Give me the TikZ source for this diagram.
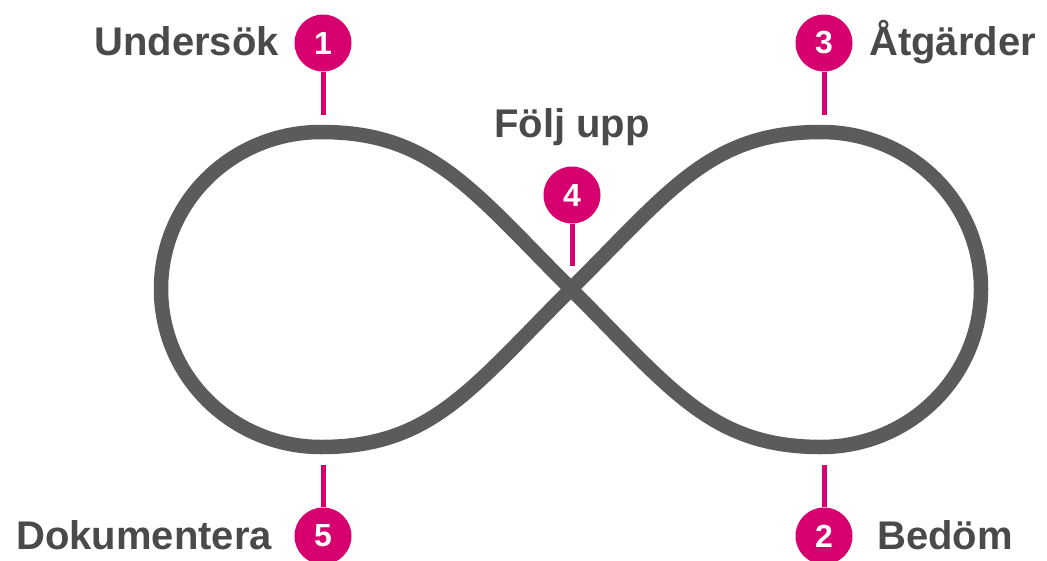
\documentclass[tikz,border=0pt]{standalone}
\usepackage{fontspec}
\setmainfont{Liberation Sans}
\definecolor{pinkc}{HTML}{D6006E}
\definecolor{loopc}{HTML}{5B5B5B}
\definecolor{textc}{HTML}{4A4A4A}
\tikzset{
  pin/.style={circle,fill=pinkc,draw=none,minimum size=57pt,inner sep=0pt,text=white,font=\bfseries\fontsize{32}{38}\selectfont},
  pinline/.style={draw=pinkc,line width=5pt},
  lbl/.style={inner sep=0pt,text=textc,font=\bfseries\fontsize{40}{48}\selectfont},
  loopline/.style={draw=loopc,line width=14.5pt,line join=round}
}
\begin{document}
\begin{tikzpicture}[x=1pt,y=-1pt]
\useasboundingbox (0,0) rectangle (1047,560);
% infinity loop
\draw[loopline] (571,289) .. controls (671,389) and (711,447) .. (821,447)
  .. controls (909,447) and (981,377) .. (981,289)
  .. controls (981,201) and (909,132) .. (821,132)
  .. controls (711,132) and (671,189) .. (571,289)
  .. controls (471,389) and (431,447) .. (321,447)
  .. controls (233,447) and (161,377) .. (161,289)
  .. controls (161,201) and (233,132) .. (321,132)
  .. controls (431,132) and (471,189) .. (571,289) -- cycle;
% pins
\node[pin] (c1) at (323,43) {1};
\node[pin] (c3) at (824,43) {3};
\node[pin] (c4) at (572,195) {4};
\node[pin] (c5) at (323,536) {5};
\node[pin] (c2) at (824,536) {2};
\coordinate (e1) at (323,115);
\coordinate (e3) at (824,115);
\coordinate (e4) at (572,266);
\coordinate (e5) at (323,465);
\coordinate (e2) at (824,465);
\draw[pinline] (c1.south) -- (e1);
\draw[pinline] (c3.south) -- (e3);
\draw[pinline] (c4.south) -- (e4);
\draw[pinline] (c5.north) -- (e5);
\draw[pinline] (c2.north) -- (e2);
% labels
\node[lbl,anchor=base east] (l1) at (279,55) {Undersök};
\node[lbl,anchor=base west] (l3) at (869,55) {Åtgärder};
\node[lbl,anchor=base] (l4) at (572,137) {Följ upp};
\node[lbl,anchor=base west] (l5) at (16,549) {Dokumentera};
\node[lbl,anchor=base west] (l2) at (877,549) {Bedöm};
\end{tikzpicture}
\end{document}
